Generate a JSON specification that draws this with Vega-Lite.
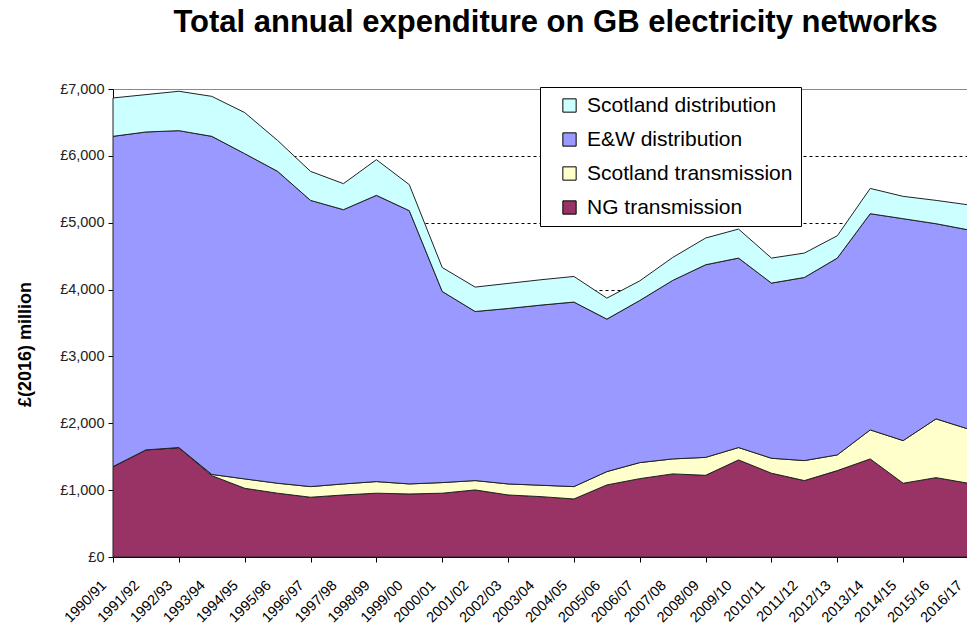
{
  "$schema": "https://vega.github.io/schema/vega-lite/v6.json",
  "width": 853,
  "height": 468,
  "autosize": {"type": "none"},
  "padding": {"left": 113, "top": 89, "right": 1, "bottom": 76},
  "background": "white",
  "title": {"text": "Total annual expenditure on GB electricity networks", "fontSize": 31, "font": "Liberation Sans", "fontWeight": "bold", "color": "black", "anchor": "middle", "offset": 42, "dx": 16},
  "data": {"values": [
    {"year": "1990/91", "NG transmission": 1352, "Scotland transmission": 0, "E&W distribution": 4940, "Scotland distribution": 574},
    {"year": "1991/92", "NG transmission": 1602, "Scotland transmission": 0, "E&W distribution": 4755, "Scotland distribution": 559},
    {"year": "1992/93", "NG transmission": 1637, "Scotland transmission": 0, "E&W distribution": 4740, "Scotland distribution": 589},
    {"year": "1993/94", "NG transmission": 1217, "Scotland transmission": 18, "E&W distribution": 5057, "Scotland distribution": 598},
    {"year": "1994/95", "NG transmission": 1028, "Scotland transmission": 140, "E&W distribution": 4865, "Scotland distribution": 614},
    {"year": "1995/96", "NG transmission": 954, "Scotland transmission": 149, "E&W distribution": 4665, "Scotland distribution": 462},
    {"year": "1996/97", "NG transmission": 894, "Scotland transmission": 159, "E&W distribution": 4281, "Scotland distribution": 434},
    {"year": "1997/98", "NG transmission": 928, "Scotland transmission": 165, "E&W distribution": 4102, "Scotland distribution": 389},
    {"year": "1998/99", "NG transmission": 954, "Scotland transmission": 174, "E&W distribution": 4281, "Scotland distribution": 534},
    {"year": "1999/00", "NG transmission": 943, "Scotland transmission": 150, "E&W distribution": 4087, "Scotland distribution": 389},
    {"year": "2000/01", "NG transmission": 954, "Scotland transmission": 159, "E&W distribution": 2859, "Scotland distribution": 358},
    {"year": "2001/02", "NG transmission": 1003, "Scotland transmission": 140, "E&W distribution": 2529, "Scotland distribution": 365},
    {"year": "2002/03", "NG transmission": 928, "Scotland transmission": 165, "E&W distribution": 2624, "Scotland distribution": 375},
    {"year": "2003/04", "NG transmission": 903, "Scotland transmission": 170, "E&W distribution": 2695, "Scotland distribution": 379},
    {"year": "2004/05", "NG transmission": 868, "Scotland transmission": 185, "E&W distribution": 2760, "Scotland distribution": 383},
    {"year": "2005/06", "NG transmission": 1078, "Scotland transmission": 199, "E&W distribution": 2281, "Scotland distribution": 314},
    {"year": "2006/07", "NG transmission": 1172, "Scotland transmission": 240, "E&W distribution": 2425, "Scotland distribution": 293},
    {"year": "2007/08", "NG transmission": 1243, "Scotland transmission": 224, "E&W distribution": 2670, "Scotland distribution": 343},
    {"year": "2008/09", "NG transmission": 1222, "Scotland transmission": 268, "E&W distribution": 2881, "Scotland distribution": 400},
    {"year": "2009/10", "NG transmission": 1452, "Scotland transmission": 185, "E&W distribution": 2834, "Scotland distribution": 434},
    {"year": "2010/11", "NG transmission": 1253, "Scotland transmission": 224, "E&W distribution": 2620, "Scotland distribution": 374},
    {"year": "2011/12", "NG transmission": 1143, "Scotland transmission": 299, "E&W distribution": 2739, "Scotland distribution": 365},
    {"year": "2012/13", "NG transmission": 1292, "Scotland transmission": 235, "E&W distribution": 2944, "Scotland distribution": 334},
    {"year": "2013/14", "NG transmission": 1467, "Scotland transmission": 434, "E&W distribution": 3234, "Scotland distribution": 378},
    {"year": "2014/15", "NG transmission": 1103, "Scotland transmission": 638, "E&W distribution": 3319, "Scotland distribution": 334},
    {"year": "2015/16", "NG transmission": 1187, "Scotland transmission": 879, "E&W distribution": 2919, "Scotland distribution": 349},
    {"year": "2016/17", "NG transmission": 1101, "Scotland transmission": 810, "E&W distribution": 2980, "Scotland distribution": 375}
  ]},
  "transform": [
    {"fold": ["NG transmission", "Scotland transmission", "E&W distribution", "Scotland distribution"], "as": ["series", "value"]},
    {"calculate": "indexof(['NG transmission', 'Scotland transmission', 'E&W distribution', 'Scotland distribution'], datum.series)", "as": "stack_rank"}
  ],
  "mark": {"type": "area", "stroke": "#222222", "strokeWidth": 1, "strokeJoin": "round"},
  "encoding": {
    "x": {
      "field": "year", "type": "ordinal",
      "scale": {"type": "point", "padding": 0, "range": [0, 856]},
      "axis": {
        "title": null, "labelAngle": -45, "labelAlign": "right", "labelBaseline": "top",
        "labelFont": "Liberation Sans", "labelFontSize": 14.5, "labelColor": "black",
        "labelOffset": -14, "labelPadding": 16,
        "tickColor": "black", "tickSize": 5,
        "tickOpacity": {"condition": {"test": "parseInt(substring(datum.value, 0, 4)) % 2 === 0", "value": 1}, "value": 0},
        "domainColor": "black", "grid": false
      }
    },
    "y": {
      "field": "value", "type": "quantitative", "stack": "zero",
      "scale": {"domain": [0, 7000], "nice": false},
      "axis": {
        "title": "£(2016) million", "titleFont": "Liberation Sans", "titleFontSize": 18, "titleFontWeight": "bold", "titleColor": "black",
        "titleX": -88, "titleY": 255, "titleAlign": "center", "titleBaseline": "middle", "titleAngle": -90,
        "values": [0, 1000, 2000, 3000, 4000, 5000, 6000, 7000],
        "labelExpr": "'£' + format(datum.value, ',')",
        "labelFont": "Liberation Sans", "labelFontSize": 14.5, "labelColor": "#222222", "labelPadding": 4,
        "tickColor": "black", "tickSize": 5, "domainColor": "black",
        "grid": true,
        "gridColor": {"condition": {"test": "datum.value === 7000", "value": "#888888"}, "value": "#000000"},
        "gridDash": {"condition": {"test": "datum.value === 7000", "value": []}, "value": [3, 3]},
        "gridWidth": 1
      }
    },
    "order": {"field": "stack_rank", "type": "quantitative", "sort": "ascending"},
    "color": {
      "field": "series", "type": "nominal",
      "sort": ["NG transmission", "Scotland transmission", "E&W distribution", "Scotland distribution"],
      "scale": {"range": ["#993366", "#FFFFCC", "#9999FF", "#CCFFFF"]},
      "legend": {
        "title": null, "orient": "none", "legendX": 427, "legendY": -2,
        "values": ["Scotland distribution", "E&W distribution", "Scotland transmission", "NG transmission"],
        "symbolType": "square", "symbolSize": 177, "symbolStrokeColor": "black", "symbolStrokeWidth": 1,
        "labelFont": "Liberation Sans", "labelFontSize": 21, "labelColor": "black", "labelLimit": 400,
        "rowPadding": 12, "padding": 8, "fillColor": "white", "strokeColor": "black",
        "symbolOffset": 11, "labelOffset": 7
      }
    }
  },
  "config": {"view": {"stroke": null}}
}
